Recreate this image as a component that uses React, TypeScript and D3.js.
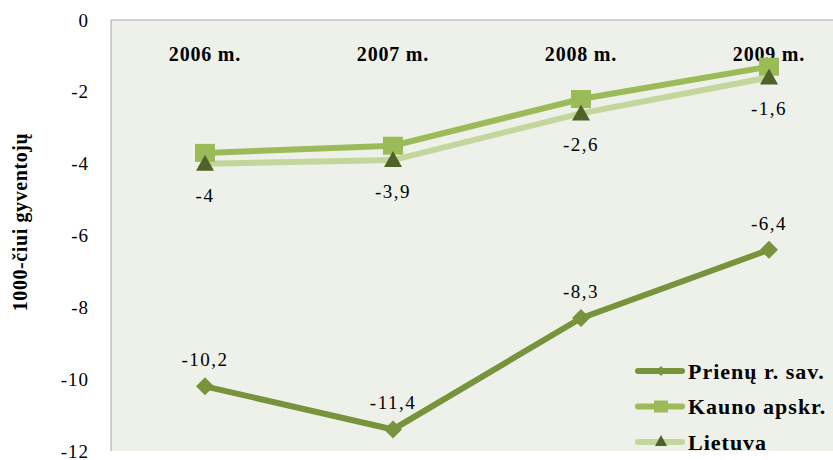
import React from "react";
import * as d3 from "d3";

const categories = ["2006 m.", "2007 m.", "2008 m.", "2009 m."];
const prienai = [-10.2, -11.4, -8.3, -6.4];
const kaunas = [-3.7, -3.5, -2.2, -1.3];
const lietuva = [-4, -3.9, -2.6, -1.6];
const yTicks = [0, -2, -4, -6, -8, -10, -12];
const seriesNames = ["Prienų r. sav.", "Kauno apskr.", "Lietuva"];

const W = 833, H = 460;
const left = 111, top = 20, bottom = 451, right = 863;
const serif = "'Times New Roman', Tinos, 'Liberation Serif', 'DejaVu Serif', serif";

const fmt = (v: number) => String(v).replace(".", ",");

export default function App() {
  const x = d3.scaleBand<string>().domain(categories).range([left, right]);
  const y = d3.scaleLinear().domain([-12, 0]).range([bottom, top]);
  const cx = (c: string) => (x(c) as number) + x.bandwidth() / 2;
  const line = d3.line<number>().x((_, i) => cx(categories[i])).y((v) => y(v));
  const ts = { fontFamily: serif };

  return (
    <svg width={W} height={H} style={{ position: "absolute", left: 0, top: 0, fontFamily: serif }}>
      <rect x={0} y={0} width={W} height={H} fill="#fff" />
      <rect x={left} y={top} width={right - left} height={bottom - top} fill="#EEF1EA" />
      <line x1={left} x2={W} y1={top} y2={top} stroke="#A6A6A6" strokeWidth={1} />
      <line x1={left} x2={left} y1={top} y2={bottom} stroke="#A6A6A6" strokeWidth={1} />
      {yTicks.map((t) => (
        <text key={t} x={89} y={y(t)} dy="0.35em" textAnchor="end" style={{ ...ts, letterSpacing: "1px" }} fontSize={19} fill="#000">
          {t}
        </text>
      ))}
      <text
        transform={`translate(27,${222}) rotate(-90)`}
        textAnchor="middle"
        style={{ ...ts, letterSpacing: "0.6px" }}
        fontWeight="bold"
        fontSize={20}
        fill="#000"
      >
        1000-čiui gyventojų
      </text>
      {categories.map((c) => (
        <text key={c} x={cx(c)} y={61} textAnchor="middle" style={{ ...ts, letterSpacing: "0.8px" }} fontWeight="bold" fontSize={20} fill="#000">
          {c}
        </text>
      ))}
      <path d={line(lietuva) || ""} fill="none" stroke="#C3D69B" strokeWidth={6} />
      <path d={line(kaunas) || ""} fill="none" stroke="#9BBB59" strokeWidth={6} />
      {kaunas.map((v, i) => (
        <rect key={i} x={cx(categories[i]) - 10} y={y(v) - 9} width={20} height={18} fill="#9BBB59" />
      ))}
      {lietuva.map((v, i) => {
        const px = cx(categories[i]), py = y(v);
        return <path key={i} d={`M${px},${py - 9}L${px + 9},${py + 7}L${px - 9},${py + 7}Z`} fill="#4F6228" />;
      })}
      <path d={line(prienai) || ""} fill="none" stroke="#77933C" strokeWidth={6} />
      {prienai.map((v, i) => {
        const px = cx(categories[i]), py = y(v);
        return <path key={i} d={`M${px},${py - 9}L${px + 9},${py}L${px},${py + 9}L${px - 9},${py}Z`} fill="#77933C" />;
      })}
      {lietuva.map((v, i) => (
        <text key={i} x={cx(categories[i])} y={y(v) + 38} textAnchor="middle" style={{ ...ts, letterSpacing: "1.5px" }} fontSize={19} fill="#000">
          {fmt(v)}
        </text>
      ))}
      {prienai.map((v, i) => (
        <text key={i} x={cx(categories[i])} y={y(v) - 20} textAnchor="middle" style={{ ...ts, letterSpacing: "1.5px" }} fontSize={19} fill="#000">
          {fmt(v)}
        </text>
      ))}
      {seriesNames.map((n, i) => {
        const ly = 371 + i * 35.5;
        const colors = ["#77933C", "#9BBB59", "#C3D69B"];
        const lx1 = 638, lx2 = 682, mx = 661;
        return (
          <g key={n}>
            <line x1={lx1} x2={lx2} y1={ly} y2={ly} stroke={colors[i]} strokeWidth={6} strokeLinecap="round" />
            {i === 0 && <path d={`M${mx},${ly - 5}L${mx + 5},${ly}L${mx},${ly + 5}L${mx - 5},${ly}Z`} fill="#77933C" />}
            {i === 1 && <rect x={mx - 7} y={ly - 6} width={14} height={12} fill="#9BBB59" />}
            {i === 2 && <path d={`M${mx},${ly - 7}L${mx + 6},${ly + 4}L${mx - 6},${ly + 4}Z`} fill="#4F6228" />}
            <text x={688} y={ly} dy="0.35em" style={{ ...ts, letterSpacing: "1px" }} fontWeight="bold" fontSize={22} fill="#000">
              {n}
            </text>
          </g>
        );
      })}
      <rect x={left} y={452} width={W - left} height={8} fill="#fff" />
    </svg>
  );
}
